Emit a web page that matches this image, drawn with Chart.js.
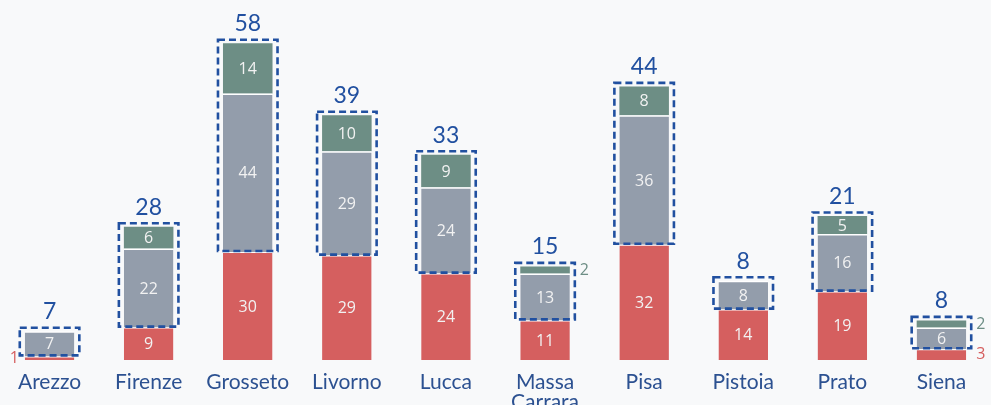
<!DOCTYPE html>
<html lang="it">
<head>
<meta charset="UTF-8">
<title>Province</title>
<style>
  html, body { margin: 0; padding: 0; background: #f8f9fa; }
  #wrap { width: 991px; height: 405px; }
</style>
</head>
<body>
<div id="wrap"><canvas id="myChart"></canvas></div>
<script src="https://cdn.jsdelivr.net/npm/chart.js@4/dist/chart.umd.min.js"></script>
<script>
// dati
const province = ['Arezzo', 'Firenze', 'Grosseto', 'Livorno', 'Lucca', ['Massa', 'Carrara'], 'Pisa', 'Pistoia', 'Prato', 'Siena']
const rosso = [1, 9, 30, 29, 24, 11, 32, 14, 19, 3]
const grigio = [7, 22, 44, 29, 24, 13, 36, 8, 16, 6]
const verde = [0, 6, 14, 10, 9, 2, 8, 0, 5, 2]
const totali = [7, 28, 58, 39, 33, 15, 44, 8, 21, 8]

const colRosso = '#d55f5f'
const colGrigio = '#939dab'
const colVerde = '#6d8e85'
const colBlu = '#2150a0'

// etichette e riquadri tratteggiati
const etichette = {
    id: 'etichette',
    afterDatasetsDraw(chart) {
        const ctx = chart.ctx
        const mR = chart.getDatasetMeta(0).data
        const mG = chart.getDatasetMeta(1).data
        const mV = chart.getDatasetMeta(2).data
        const y = chart.scales.y
        ctx.save()
        province.forEach((p, i) => {
            const bar = mG[i]
            const half = bar.width / 2
            const left = bar.x - half, right = bar.x + half
            const top = y.getPixelForValue(rosso[i] + grigio[i] + verde[i])
            const bottom = y.getPixelForValue(rosso[i])
            // riquadro
            ctx.setLineDash([7, 4])
            ctx.lineWidth = 2.6
            ctx.strokeStyle = colBlu
            ctx.strokeRect(left - 5, top - 3.5, bar.width + 10, bottom - top + 2.5)
            ctx.setLineDash([])
            // totale
            ctx.fillStyle = colBlu
            ctx.font = '23px Lato'
            ctx.textAlign = 'center'
            ctx.textBaseline = 'bottom'
            ctx.fillText(totali[i], bar.x, top - 8)
            // valori dei segmenti
            const segs = [[rosso, mR, colRosso], [grigio, mG, colGrigio], [verde, mV, colVerde]]
            ctx.font = '16px "Open Sans"'
            ctx.textBaseline = 'middle'
            segs.forEach(([vals, meta, col]) => {
                const v = vals[i]
                if (!v) return
                const el = meta[i]
                const h = Math.abs(el.base - el.y)
                const cy = (el.y + el.base) / 2
                if (h >= 16) {
                    ctx.fillStyle = '#f2f2f2'
                    ctx.textAlign = 'center'
                    ctx.fillText(v, el.x, cy + 1)
                } else {
                    ctx.fillStyle = col
                    if (i === 0) {
                        ctx.textAlign = 'right'
                        ctx.fillText(v, left - 6, cy)
                    } else {
                        ctx.textAlign = 'left'
                        ctx.fillText(v, right + 10, cy)
                    }
                }
            })
        })
        ctx.restore()
    }
}

const ctx = document.getElementById('myChart').getContext('2d')
const myChart = new Chart(ctx, {
    type: 'bar',
    data: {
        labels: province,
        datasets: [
            { label: 'rosso', data: rosso, backgroundColor: colRosso, borderColor: '#ffffff', borderWidth: { top: 1 }, borderSkipped: false },
            { label: 'grigio', data: grigio, backgroundColor: colGrigio, borderColor: '#ffffff', borderWidth: { top: 1.5 }, borderSkipped: false },
            { label: 'verde', data: verde, backgroundColor: colVerde, borderWidth: 0 }
        ]
    },
    options: {
        responsive: true,
        maintainAspectRatio: false,
        animation: false,
        layout: { padding: 0 },
        datasets: { bar: { categoryPercentage: 0.5, barPercentage: 1 } },
        plugins: {
            legend: { display: false },
            tooltip: { enabled: false }
        },
        scales: {
            x: {
                stacked: true,
                grid: { display: false },
                border: { display: false },
                ticks: {
                    color: '#2c5191',
                    font: { family: 'Lato', size: 21, lineHeight: 0.95 },
                    padding: 4,
                    maxRotation: 0,
                    autoSkip: false
                },
                afterFit: s => { s.height = 45 }
            },
            y: {
                stacked: true,
                display: false,
                min: 0,
                max: 100
            }
        }
    },
    plugins: [etichette]
})
</script>
</body>
</html>
